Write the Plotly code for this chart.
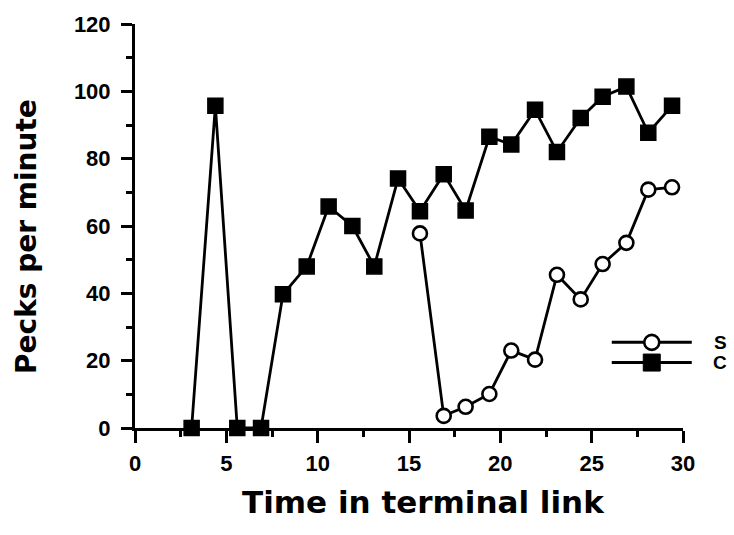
import plotly.graph_objects as go

# Data
time_c = [3.1, 4.4, 5.6, 6.9, 8.1, 9.4, 10.6, 11.9, 13.1, 14.4, 15.6, 16.9,
          18.1, 19.4, 20.6, 21.9, 23.1, 24.4, 25.6, 26.9, 28.1, 29.4]
pecks_c = [0, 95.7, 0, 0, 39.7, 48.0, 65.8, 60.0, 48.0, 74.1, 64.4, 75.4,
           64.6, 86.5, 84.2, 94.5, 82.0, 92.1, 98.4, 101.4, 87.7, 95.7]
time_s = [15.6, 16.9, 18.1, 19.4, 20.6, 21.9, 23.1, 24.4, 25.6, 26.9, 28.1, 29.4]
pecks_s = [57.8, 3.6, 6.3, 10.1, 23.0, 20.3, 45.5, 38.2, 48.7, 55.0, 70.8, 71.5]

x_ticks = [0, 5, 10, 15, 20, 25, 30]
y_ticks = [0, 20, 40, 60, 80, 100, 120]
legend_names = ["S", "C"]
x_title = "Time in terminal link"
y_title = "Pecks per minute"

fig = go.Figure()
fig.add_trace(go.Scatter(
    x=time_s, y=pecks_s, mode="lines+markers", name="S",
    line=dict(color="black", width=2.8),
    marker=dict(symbol="circle", size=14, color="white",
                line=dict(color="black", width=2.6)),
    cliponaxis=False, showlegend=False))
fig.add_trace(go.Scatter(
    x=time_c, y=pecks_c, mode="lines+markers", name="C",
    line=dict(color="black", width=2.8),
    marker=dict(symbol="square", size=15, color="black",
                line=dict(color="black", width=1.5)),
    cliponaxis=False, showlegend=False))

tickfont = dict(family="Liberation Sans", size=22, color="black", weight="bold")

fig.update_xaxes(range=[0, 30], tickvals=x_ticks, ticktext=[str(v) for v in x_ticks],
                 showgrid=False, zeroline=False, showline=True, linecolor="black",
                 linewidth=3, ticks="outside", ticklen=12, tickwidth=2.5,
                 tickcolor="black", tickfont=tickfont, ticklabelstandoff=2,
                 minor=dict(dtick=2.5, tick0=0, ticks="outside", ticklen=6,
                            tickwidth=2.5, tickcolor="black", showgrid=False))
fig.update_yaxes(range=[0, 120], tickvals=y_ticks, ticktext=[str(v) for v in y_ticks],
                 showgrid=False, zeroline=False, showline=True, linecolor="black",
                 linewidth=3, ticks="outside", ticklen=11, tickwidth=2.5,
                 tickcolor="black", tickfont=tickfont, ticklabelstandoff=6,
                 minor=dict(dtick=10, tick0=0, ticks="outside", ticklen=6,
                            tickwidth=2.5, tickcolor="black", showgrid=False))

# Manual legend (long line with marker in the middle)
leg_x0, leg_x1, leg_xm = 0.87, 1.016, 0.943
leg_y = [0.212, 0.162]
shapes = []
for yy in leg_y:
    shapes.append(dict(type="line", xref="paper", yref="paper", x0=leg_x0, x1=leg_x1,
                       y0=yy, y1=yy, line=dict(color="black", width=3), layer="above"))
shapes.append(dict(type="circle", xref="paper", yref="paper", xsizemode="pixel",
                   ysizemode="pixel", xanchor=leg_xm, yanchor=leg_y[0],
                   x0=-7.5, x1=7.5, y0=-7.5, y1=7.5, fillcolor="white",
                   line=dict(color="black", width=2.6), layer="above"))
shapes.append(dict(type="rect", xref="paper", yref="paper", xsizemode="pixel",
                   ysizemode="pixel", xanchor=leg_xm, yanchor=leg_y[1],
                   x0=-8.5, x1=8.5, y0=-8.5, y1=8.5, fillcolor="black",
                   line=dict(color="black", width=1), layer="above"))

annotations = []
for name, yy in zip(legend_names, leg_y):
    annotations.append(dict(text=name, xref="paper", yref="paper", x=1.068, y=yy,
                            xanchor="center", yanchor="middle", showarrow=False,
                            font=dict(family="Liberation Sans", size=19, color="black",
                                      weight="bold")))
annotations.append(dict(text=x_title, xref="paper", yref="paper", x=0.527, y=-0.184,
                        xanchor="center", yanchor="middle", showarrow=False,
                        font=dict(family="DejaVu Sans", size=31, color="black",
                                  weight="bold")))
annotations.append(dict(text=y_title, xref="paper", yref="paper", x=-0.197, y=0.473,
                        xanchor="center", yanchor="middle", showarrow=False,
                        textangle=-90,
                        font=dict(family="DejaVu Sans", size=28, color="black",
                                  weight="bold")))

fig.update_layout(width=734, height=535,
                  margin=dict(l=135, r=51, t=20, b=107),
                  paper_bgcolor="white", plot_bgcolor="white",
                  shapes=shapes, annotations=annotations, showlegend=False)

fig.write_html("out.html")
